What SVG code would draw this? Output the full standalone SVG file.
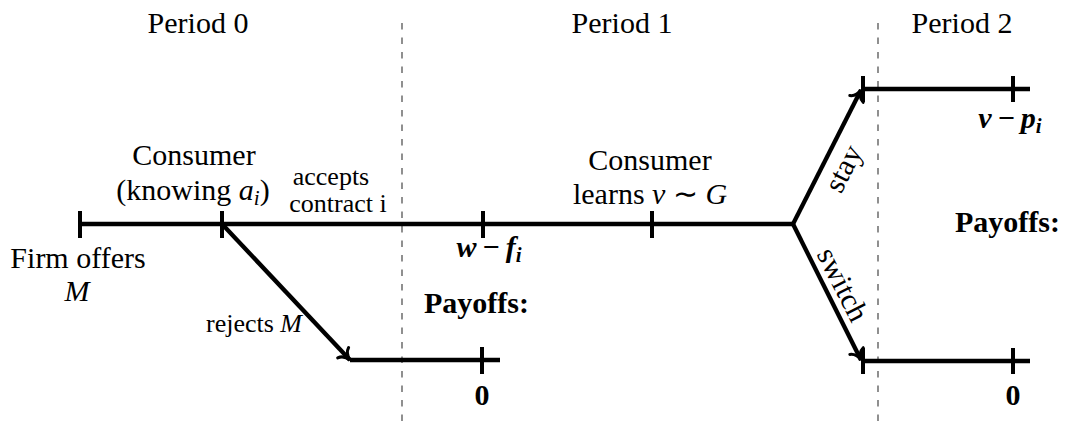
<svg xmlns="http://www.w3.org/2000/svg" width="1070" height="426" viewBox="0 0 1070 426">
<style>
text{font-family:"Liberation Serif","Times New Roman",serif;fill:#000}
.m{font-size:30px}
.s{font-size:26px}
.b{font-weight:bold}
.i{font-style:italic}
.ln{stroke:#000;stroke-width:4.3;fill:none}
.tk{stroke:#000;stroke-width:4;fill:none}
.ds{stroke:#555;stroke-width:1.3;stroke-dasharray:6.5 8;fill:none}
</style>
<defs>
<marker id="arr" markerUnits="userSpaceOnUse" viewBox="-14 -10 18 20" refX="0" refY="0" markerWidth="18" markerHeight="20" orient="auto" overflow="visible">
<path d="M-10,-7.5 C-8.5,-3 -3.5,-0.6 0,0 C-3.5,0.6 -8.5,3 -10,7.5" stroke="#000" stroke-width="3" fill="none" stroke-linecap="round"/>
</marker>
</defs>
<g id="periods">
<line class="ds" x1="402" y1="23" x2="402" y2="426"/>
<line class="ds" x1="878" y1="23" x2="878" y2="426"/>
<text class="m" x="198" y="33" text-anchor="middle">Period 0</text>
<text class="m" x="622" y="33" text-anchor="middle">Period 1</text>
<text class="m" x="962" y="33" text-anchor="middle">Period 2</text>
</g>
<g id="connectors">
<line class="ln" x1="80" y1="224" x2="793" y2="224"/>
<line class="ln" x1="222" y1="224" x2="350" y2="360" marker-end="url(#arr)"/>
<line class="ln" x1="350" y1="360" x2="500" y2="360"/>
<line class="ln" x1="793" y1="224" x2="861" y2="90" marker-end="url(#arr)"/>
<line class="ln" x1="793" y1="224" x2="861" y2="360" marker-end="url(#arr)"/>
<line class="ln" x1="862" y1="89" x2="1030" y2="89"/>
<line class="ln" x1="862" y1="361" x2="1030" y2="361"/>
</g>
<g id="firm">
<line class="tk" x1="80" y1="211" x2="80" y2="238"/>
<text class="m" x="78" y="268" text-anchor="middle">Firm offers</text>
<text class="m i" x="77" y="301" text-anchor="middle">M</text>
</g>
<g id="consumer0">
<line class="tk" x1="222" y1="211" x2="222" y2="238"/>
<text class="m" x="194" y="165" text-anchor="middle">Consumer</text>
<text class="m" x="193" y="200" text-anchor="middle">(knowing <tspan class="i">a</tspan><tspan class="i" font-size="21" dy="5">i</tspan><tspan dy="-5">)</tspan></text>
<text class="s" x="331" y="185" text-anchor="middle">accepts</text>
<text class="s" x="338" y="212" text-anchor="middle">contract i</text>
<text class="s" x="302" y="332" text-anchor="end">rejects <tspan class="i">M</tspan></text>
</g>
<g id="payoff-accept">
<line class="tk" x1="483" y1="211" x2="483" y2="238"/>
<text class="m b" x="489" y="257" text-anchor="middle"><tspan class="i">w</tspan><tspan dx="6">−</tspan><tspan class="i" dx="6">f</tspan><tspan class="i" font-size="21" dy="5">i</tspan></text>
</g>
<g id="consumer1">
<line class="tk" x1="652" y1="211" x2="652" y2="238"/>
<text class="m" x="650" y="170" text-anchor="middle">Consumer</text>
<text class="m" x="650" y="204" text-anchor="middle">learns <tspan class="i">v</tspan> ∼ <tspan class="i">G</tspan></text>
</g>
<g id="reject">
<text class="m b" x="424" y="313">Payoffs:</text>
<line class="tk" x1="482" y1="347" x2="482" y2="374"/>
<text class="m b" x="482" y="405" text-anchor="middle">0</text>
</g>
<g id="stay">
<text class="m" transform="translate(852,173) rotate(-63)" text-anchor="middle">stay</text>
<line class="tk" x1="863" y1="76" x2="863" y2="102"/>
<line class="tk" x1="1013" y1="76" x2="1013" y2="102"/>
<text class="m b" x="1010" y="128" text-anchor="middle"><tspan class="i">v</tspan><tspan dx="6">−</tspan><tspan class="i" dx="6">p</tspan><tspan class="i" font-size="21" dy="5">i</tspan></text>
</g>
<g id="switch">
<text class="m" transform="translate(834,289) rotate(63)" text-anchor="middle">switch</text>
<line class="tk" x1="863" y1="348" x2="863" y2="374"/>
<line class="tk" x1="1013" y1="348" x2="1013" y2="374"/>
<text class="m b" x="1013" y="405" text-anchor="middle">0</text>
</g>
<g id="payoffs2">
<text class="m b" x="955" y="232">Payoffs:</text>
</g>
</svg>
